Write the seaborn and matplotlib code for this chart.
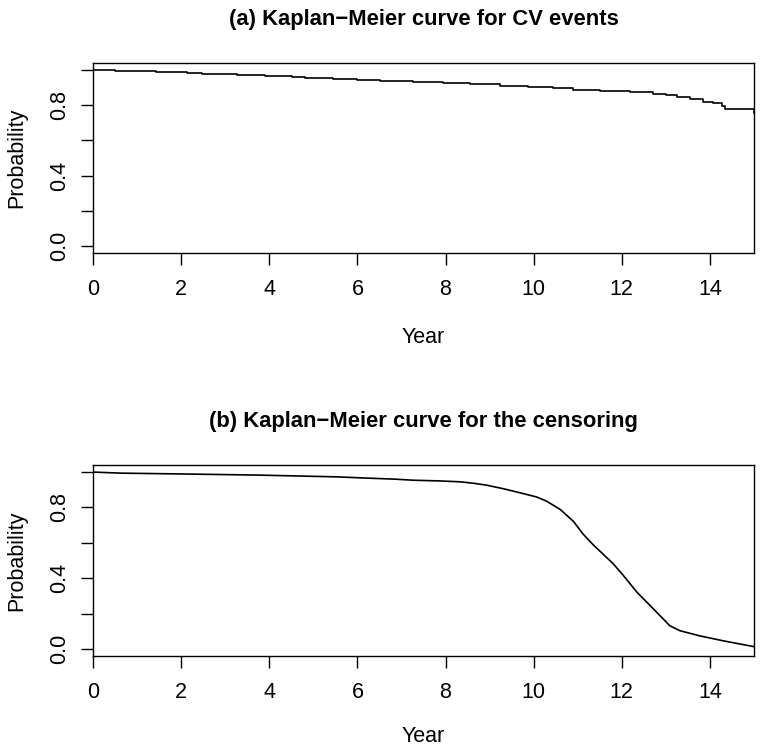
import matplotlib
matplotlib.use("Agg")
import matplotlib.pyplot as plt
import seaborn as sns
import pandas as pd

# Kaplan-Meier estimates
years_cv = [0, 0.5, 1.44, 2.13, 2.47, 3.26, 3.9, 4.51, 4.81, 5.45, 6.0, 6.51,
            7.26, 7.95, 8.55, 9.24, 9.87, 10.44, 10.9, 11.5, 12.19, 12.7, 13.0,
            13.25, 13.55, 13.84, 14.07, 14.27, 14.34, 14.99, 15.0]
surv_cv = [1.0, 0.994, 0.989, 0.981, 0.976, 0.972, 0.966, 0.960, 0.953, 0.947,
           0.941, 0.936, 0.930, 0.924, 0.919, 0.911, 0.903, 0.896, 0.888, 0.881,
           0.873, 0.865, 0.858, 0.845, 0.834, 0.820, 0.811, 0.795, 0.780, 0.754,
           0.754]

years_cens = [0, 0.64, 2.12, 3.75, 4.81, 5.53, 6.21, 6.85, 7.27, 7.87, 8.33,
              8.63, 8.93, 9.31, 9.69, 10.07, 10.29, 10.6, 10.9, 11.12, 11.35,
              11.8, 12.03, 12.34, 12.64, 13.09, 13.32, 13.77, 14.3, 15.0]
surv_cens = [1.0, 0.994, 0.989, 0.983, 0.977, 0.973, 0.966, 0.960, 0.954, 0.950,
             0.945, 0.937, 0.926, 0.906, 0.883, 0.859, 0.836, 0.789, 0.722, 0.650,
             0.589, 0.483, 0.417, 0.322, 0.246, 0.131, 0.103, 0.074, 0.046, 0.013]

titles = ["(a) Kaplan\u2212Meier curve for CV events",
          "(b) Kaplan\u2212Meier curve for the censoring"]
y_ticks = [0, 0.2, 0.4, 0.6, 0.8, 1.0]
y_ticklabels = ["0.0", "", "0.4", "", "0.8", ""]
x_ticks = [0, 2, 4, 6, 8, 10, 12, 14]

sns.set_style("ticks")
plt.rcParams['font.family'] = ['Liberation Sans', 'DejaVu Sans']
for key in ["text.color", "axes.labelcolor", "xtick.color", "ytick.color",
            "axes.edgecolor"]:
    plt.rcParams[key] = "black"

fig = plt.figure(figsize=(7.6, 7.47), dpi=100)
ax1 = fig.add_axes([0.1224, 0.6613, 0.8697, 0.2544])
ax2 = fig.add_axes([0.1224, 0.1218, 0.8697, 0.2557])

df_a = pd.DataFrame({"Year": years_cv, "Probability": surv_cv})
df_b = pd.DataFrame({"Year": years_cens, "Probability": surv_cens})

sns.lineplot(data=df_a, x="Year", y="Probability", ax=ax1, color="black",
             lw=1.2, drawstyle="steps-post", estimator=None)
sns.lineplot(data=df_b, x="Year", y="Probability", ax=ax2, color="black",
             lw=1.2, estimator=None)

for ax, xpad in zip([ax1, ax2], [20, 17]):
    ax.set_xlim(0, 15)
    ax.set_ylim(-0.04, 1.04)
    ax.set_xticks(x_ticks)
    ax.set_yticks(y_ticks)
    ax.set_yticklabels(y_ticklabels, rotation=90, va="center")
    ax.tick_params(axis="both", direction="out", length=8.5, width=1.0,
                   labelsize=15.5, colors="black")
    ax.tick_params(axis="x", pad=10)
    ax.tick_params(axis="y", pad=8)
    for s in ax.spines.values():
        s.set_visible(True)
        s.set_color("black")
        s.set_linewidth(1.0)
    ax.set_xlabel("Year", fontsize=15.5, labelpad=xpad)
    ax.set_ylabel("Probability", fontsize=15.5, labelpad=16)

# panel titles, same distance above each box as in the reference
fig.text(0.5573, 1 - 19 / 747, titles[0], ha="center", va="center",
         fontsize=15.8, fontweight="bold")
fig.text(0.5573, 1 - 421 / 747, titles[1], ha="center", va="center",
         fontsize=15.8, fontweight="bold")

fig.savefig("out.png", dpi=100)
